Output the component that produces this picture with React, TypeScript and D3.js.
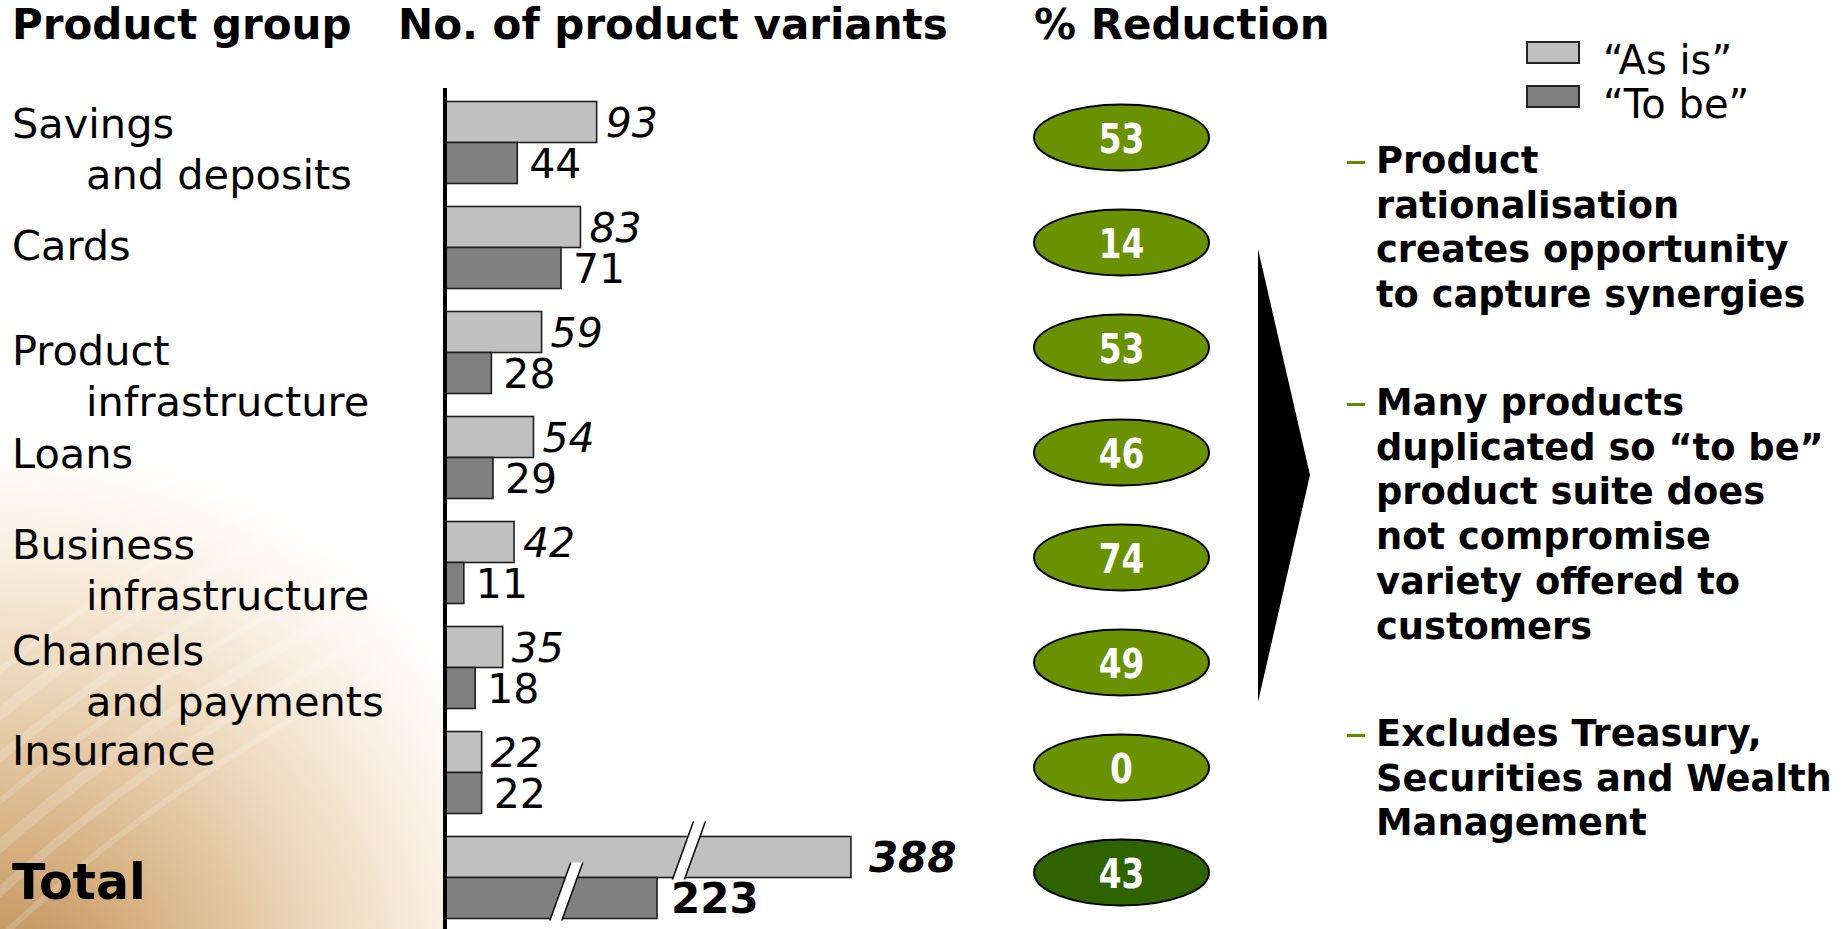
import { useEffect, useRef } from "react";
import * as d3 from "d3";

// product groups (label lines) and their values
const groupLabels = [
  ["Savings", "and deposits"],
  ["Cards"],
  ["Product", "infrastructure"],
  ["Loans"],
  ["Business", "infrastructure"],
  ["Channels", "and payments"],
  ["Insurance"],
];
const categories = groupLabels.map((l) => l.join(" "));
const asIs = [93, 83, 59, 54, 42, 35, 22];
const toBe = [44, 71, 28, 29, 11, 18, 22];
const reduction = [53, 14, 53, 46, 74, 49, 0];
const totalAsIs = 388;
const totalToBe = 223;
const totalReduction = 43;

const legendLabels = ["\u201CAs is\u201D", "\u201CTo be\u201D"];
const bullets = [
  ["Product", "rationalisation", "creates opportunity", "to capture synergies"],
  [
    "Many products",
    "duplicated so \u201Cto be\u201D",
    "product suite does",
    "not compromise",
    "variety offered to",
    "customers",
  ],
  ["Excludes Treasury,", "Securities and Wealth", "Management"],
];

// layout tweaks (baseline of first label line relative to the group centre)
const labelDy = [-5, 12, 12, 10, -4, -3, -8];
const bulletTop = [173, 415, 746];

const ReductionChart = () => {
  const chartRef = useRef<HTMLDivElement>(null);

  useEffect(() => {
    const width = 1847;
    const height = 929;
    const font = "'DejaVu Sans', Verdana, sans-serif";

    const svg = d3
      .select(chartRef.current)
      .html("")
      .append("svg")
      .attr("width", width)
      .attr("height", height)
      .style("display", "block")
      .style("font-family", font);

    // warm photo-like background in the lower left corner
    const defs = svg.append("defs");
    const grad = defs
      .append("radialGradient")
      .attr("id", "bg")
      .attr("gradientUnits", "userSpaceOnUse")
      .attr("cx", 0)
      .attr("cy", 1000)
      .attr("r", 560);
    const stops: [number, string][] = [
      [0, "#b9894f"],
      [0.3, "#d8b385"],
      [0.6, "#eedabf"],
      [0.85, "#fbf3e9"],
      [1, "#ffffff"],
    ];
    stops.forEach(([o, c]) => grad.append("stop").attr("offset", o).attr("stop-color", c));
    defs
      .append("clipPath")
      .attr("id", "bgclip")
      .append("rect")
      .attr("x", 0)
      .attr("y", 0)
      .attr("width", 443)
      .attr("height", height);

    const bg = svg.append("g").attr("clip-path", "url(#bgclip)");
    bg.append("rect").attr("x", 0).attr("y", 0).attr("width", 443).attr("height", height).attr("fill", "url(#bg)");
    d3.range(7).forEach((k) => {
      bg.append("circle")
        .attr("cx", 1100)
        .attr("cy", 2100)
        .attr("r", 1600 + k * 34)
        .attr("fill", "none")
        .attr("stroke", "#ffffff")
        .attr("stroke-opacity", 0.18)
        .attr("stroke-width", 6 + (k % 3) * 3);
    });

    // scales
    const rows = [...categories, "Total"];
    const y = d3
      .scaleBand()
      .domain(rows)
      .range([90, 930])
      .paddingInner(0.219)
      .paddingOuter(0.1095);
    const half = y.bandwidth() / 2;
    const x = d3.scaleLinear().domain([0, 100]).range([446, 608]);
    // broken scale for the totals
    const xTotal = d3.scaleLinear().domain([0, 200, 400]).range([446, 630, 865]);
    const mid = (c: string) => (y(c) as number) + half;

    // column headers
    const headers: [string, number][] = [
      ["Product group", 12],
      ["No. of product variants", 398],
      ["% Reduction", 1034],
    ];
    svg
      .selectAll(".header")
      .data(headers)
      .enter()
      .append("text")
      .attr("x", (d) => d[1])
      .attr("y", 39)
      .attr("font-size", 42)
      .attr("font-weight", "bold")
      .text((d) => d[0]);

    // group labels
    groupLabels.forEach((lines, i) => {
      const base = mid(categories[i]) + labelDy[i];
      lines.forEach((line, j) => {
        svg
          .append("text")
          .attr("x", j === 0 ? 12 : 86)
          .attr("y", base + j * 51)
          .attr("font-size", 41.5)
          .text(line);
      });
    });
    svg
      .append("text")
      .attr("x", 12)
      .attr("y", mid("Total") + 21)
      .attr("font-size", 49)
      .attr("font-weight", "bold")
      .text("Total");

    // bars
    const barData = [
      ...categories.map((c, i) => ({ cat: c, v: asIs[i], s: 0, total: false })),
      ...categories.map((c, i) => ({ cat: c, v: toBe[i], s: 1, total: false })),
      { cat: "Total", v: totalAsIs, s: 0, total: true },
      { cat: "Total", v: totalToBe, s: 1, total: true },
    ];
    const xOf = (d: { v: number; total: boolean }) => (d.total ? xTotal(d.v) : x(d.v));

    svg
      .selectAll(".bar")
      .data(barData)
      .enter()
      .append("rect")
      .attr("class", "bar")
      .attr("x", x(0))
      .attr("y", (d) => (y(d.cat) as number) + d.s * half)
      .attr("width", (d) => xOf(d) - x(0))
      .attr("height", half)
      .attr("fill", (d) => (d.s === 0 ? "#c0c0c0" : "#808080"))
      .attr("stroke", "#1e1e1e")
      .attr("stroke-width", 1.6);

    // value labels
    svg
      .selectAll(".label")
      .data(barData)
      .enter()
      .append("text")
      .attr("class", "label")
      .attr("x", (d) => xOf(d) + (d.total ? (d.s === 0 ? 18 : 14) : d.s === 0 ? 9 : 12))
      .attr("y", (d) => (y(d.cat) as number) + d.s * half + half / 2 + 15)
      .attr("font-size", (d) => (d.total ? 42 : 41))
      .attr("font-style", (d) => (d.s === 0 ? "italic" : "normal"))
      .attr("font-weight", (d) => (d.total ? "bold" : "normal"))
      .text((d) => d.v);

    // axis break marks on the total bars
    const breakAt = [0.6, 0.57];
    barData
      .filter((d) => d.total)
      .forEach((d, k) => {
        const cx = x(0) + (xOf(d) - x(0)) * breakAt[k];
        const top = (y(d.cat) as number) + d.s * half - 15;
        const bot = (y(d.cat) as number) + d.s * half + half + 2;
        const dx = 10.5;
        const w = 6;
        svg
          .append("polygon")
          .attr(
            "points",
            [
              [cx + dx - w, top],
              [cx + dx + w, top],
              [cx - dx + w, bot],
              [cx - dx - w, bot],
            ]
              .map((p) => p.join(","))
              .join(" ")
          )
          .attr("fill", "#ffffff");
        [-w, w].forEach((o) => {
          svg
            .append("line")
            .attr("x1", cx + dx + o)
            .attr("y1", top)
            .attr("x2", cx - dx + o)
            .attr("y2", bot)
            .attr("stroke", "#111")
            .attr("stroke-width", 1.6);
        });
      });

    // vertical axis
    svg
      .append("line")
      .attr("x1", 445)
      .attr("x2", 445)
      .attr("y1", 88)
      .attr("y2", height)
      .attr("stroke", "#000")
      .attr("stroke-width", 4);

    // % reduction ellipses
    const redData = [
      ...categories.map((c, i) => ({ cat: c, v: reduction[i], total: false })),
      { cat: "Total", v: totalReduction, total: true },
    ];
    const red = svg
      .selectAll(".red")
      .data(redData)
      .enter()
      .append("g")
      .attr("transform", (d) => `translate(1121.5,${(y(d.cat) as number) + half - 5})`);
    red
      .append("ellipse")
      .attr("rx", 87.5)
      .attr("ry", 33)
      .attr("fill", (d) => (d.total ? "#2f6300" : "#6a9100"))
      .attr("stroke", "#000")
      .attr("stroke-width", 2);
    red
      .append("text")
      .attr("transform", "translate(0,15) scale(0.8,1)")
      .attr("text-anchor", "middle")
      .attr("fill", "#ffffff")
      .attr("font-weight", "bold")
      .attr("font-size", 41)
      .text((d) => d.v);

    // arrow
    svg
      .append("polygon")
      .attr("points", "1258,249 1310,475 1258,702")
      .attr("fill", "#000");

    // legend
    legendLabels.forEach((lab, i) => {
      svg
        .append("rect")
        .attr("x", 1527)
        .attr("y", 42 + i * 44)
        .attr("width", 52)
        .attr("height", 21)
        .attr("fill", i === 0 ? "#c0c0c0" : "#808080")
        .attr("stroke", "#222")
        .attr("stroke-width", 2);
      svg
        .append("text")
        .attr("x", 1603)
        .attr("y", 74 + i * 44)
        .attr("font-size", 40)
        .text(lab);
    });

    // bullet text
    bullets.forEach((lines, b) => {
      svg
        .append("line")
        .attr("x1", 1347)
        .attr("x2", 1365)
        .attr("y1", bulletTop[b] - 10.5)
        .attr("y2", bulletTop[b] - 10.5)
        .attr("stroke", "#5f8a00")
        .attr("stroke-width", 3);
      lines.forEach((line, j) => {
        svg
          .append("text")
          .attr("x", 1376)
          .attr("y", bulletTop[b] + j * 44.7)
          .attr("font-size", 36.8)
          .attr("font-weight", "bold")
          .text(line);
      });
    });
  }, []);

  return <div ref={chartRef} style={{ position: "absolute", left: 0, top: 0 }}></div>;
};

export default function App() {
  return <ReductionChart />;
}
